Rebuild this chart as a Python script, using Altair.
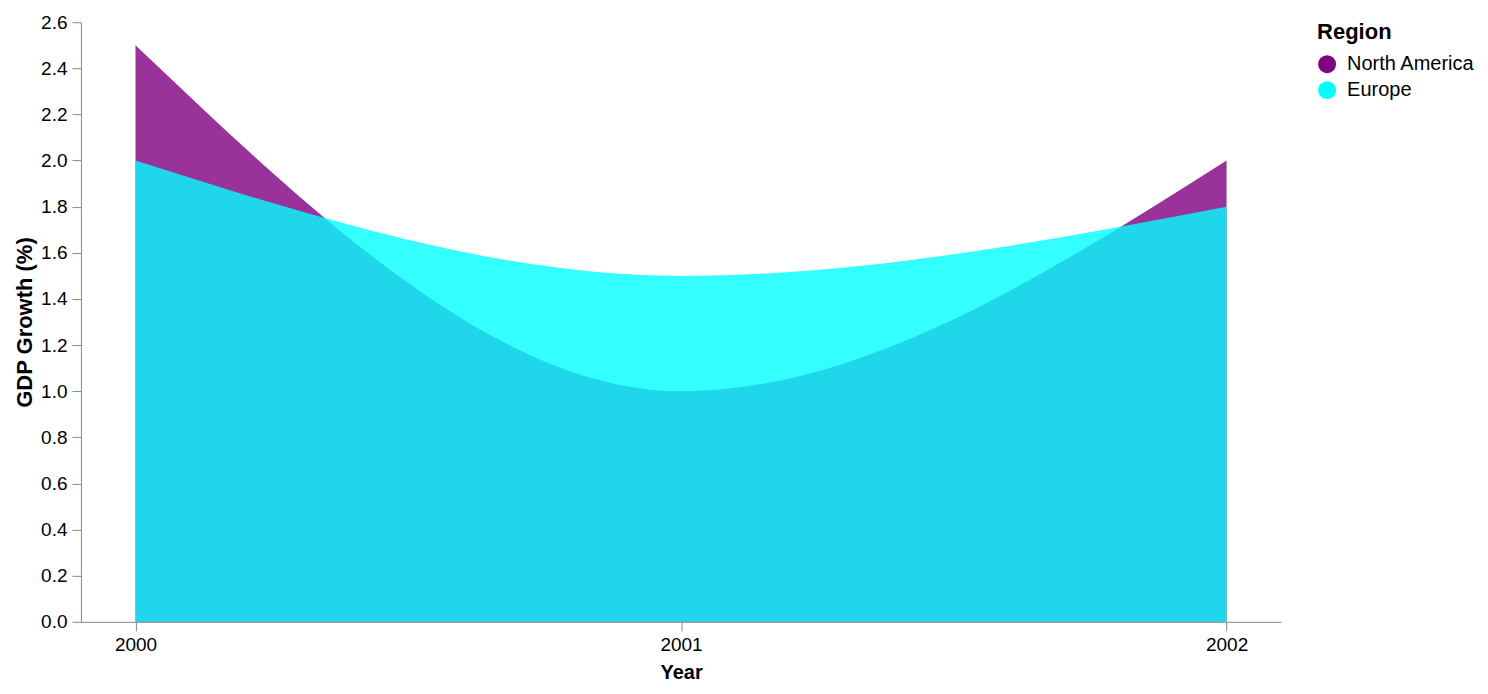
import pandas as pd
import altair as alt

years = [2000, 2001, 2002]
regions = ["North America", "Europe"]
north_america = [2.5, 1.0, 2.0]
europe = [2.0, 1.5, 1.8]

df = pd.DataFrame(
    {
        "Year": years * 2,
        "Region": [regions[0]] * 3 + [regions[1]] * 3,
        "GDP Growth": north_america + europe,
    }
)

chart = (
    alt.Chart(df, width=1201, height=600)
    .mark_area(interpolate="monotone", opacity=0.8)
    .encode(
        alt.X(
            "Year:O",
            axis=alt.Axis(
                title="Year", labelAngle=0, titleFontSize=20, titlePadding=8
            ),
            scale=alt.Scale(padding=0.1),
        ),
        alt.Y(
            "GDP Growth:Q",
            axis=alt.Axis(
                title="GDP Growth (%)", grid=False, tickCount=13, titleFontSize=22
            ),
            scale=alt.Scale(domain=[0, 2.6]),
            stack=None,
        ),
        alt.Color(
            "Region:N",
            scale=alt.Scale(domain=regions, range=["purple", "cyan"]),
            legend=alt.Legend(title="Region", symbolType="circle"),
        ),
    )
    .configure(font="Liberation Sans")
    .configure_axis(
        labelFontSize=19,
        domainColor="#888",
        tickColor="#888",
        tickSize=9,
        labelPadding=5,
    )
    .configure_legend(
        labelFontSize=20,
        titleFontSize=22,
        titlePadding=10,
        symbolOpacity=1,
        symbolSize=320,
        labelOffset=10,
        offset=36,
        rowPadding=6,
    )
    .configure_view(stroke=None)
)

chart.save("out.html", embed_options={"renderer": "svg", "actions": False})
